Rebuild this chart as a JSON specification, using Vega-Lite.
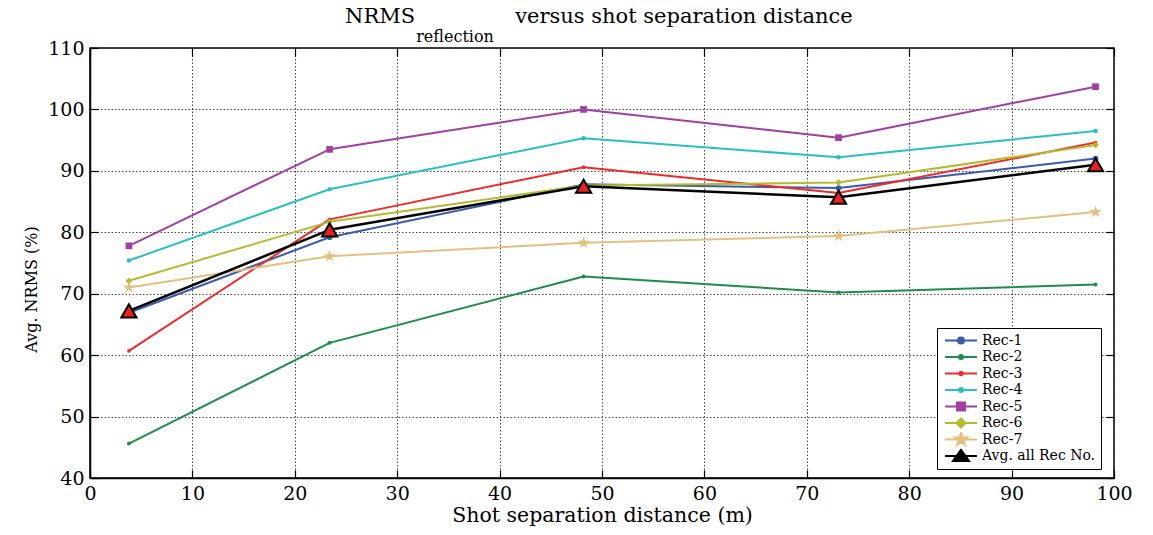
{
  "$schema": "https://vega.github.io/schema/vega-lite/v6.json",
  "width": 1024,
  "height": 430,
  "autosize": "none",
  "padding": {"left": 90, "top": 48, "right": 39, "bottom": 57},
  "background": "white",
  "config": {
    "font": "DejaVu Serif",
    "view": {"stroke": "black", "strokeWidth": 1.5},
    "legend": {"labelFont": "DejaVu Serif"},
    "axis": {
      "labelFont": "DejaVu Serif",
      "titleFont": "DejaVu Serif",
      "labelColor": "black",
      "titleColor": "black",
      "titleFontWeight": "normal",
      "domainColor": "black",
      "domainWidth": 1.5,
      "tickColor": "black",
      "tickWidth": 1.2,
      "tickSize": -8,
      "gridColor": "#333333",
      "gridDash": [1.5, 2],
      "gridWidth": 1,
      "gridOpacity": 0.9
    }
  },
  "title": {
    "text": "NRMS\u00a0\u00a0\u00a0\u00a0\u00a0\u00a0\u00a0\u00a0\u00a0\u00a0\u00a0\u00a0\u00a0\u00a0\u00a0versus shot separation distance",
    "subtitle": "\u200b\u00a0\u00a0\u00a0\u00a0\u00a0\u00a0\u00a0\u00a0\u00a0\u00a0\u00a0\u00a0\u00a0\u00a0reflection",
    "anchor": "start",
    "frame": "group",
    "dx": 255,
    "font": "DejaVu Serif",
    "fontSize": 21,
    "fontWeight": "normal",
    "color": "black",
    "subtitleFont": "DejaVu Serif",
    "subtitleFontSize": 16,
    "subtitleColor": "black",
    "subtitlePadding": 2,
    "offset": -6
  },
  "datasets": {
    "nrms": [
      {"x": 3.8, "series": "Rec-1", "y": 66.9},
      {"x": 23.4, "series": "Rec-1", "y": 79.2},
      {"x": 48.2, "series": "Rec-1", "y": 87.8},
      {"x": 73.1, "series": "Rec-1", "y": 87.2},
      {"x": 98.2, "series": "Rec-1", "y": 92.0},
      {"x": 3.8, "series": "Rec-2", "y": 45.6},
      {"x": 23.4, "series": "Rec-2", "y": 62.0},
      {"x": 48.2, "series": "Rec-2", "y": 72.8},
      {"x": 73.1, "series": "Rec-2", "y": 70.2},
      {"x": 98.2, "series": "Rec-2", "y": 71.5},
      {"x": 3.8, "series": "Rec-3", "y": 60.7},
      {"x": 23.4, "series": "Rec-3", "y": 82.1},
      {"x": 48.2, "series": "Rec-3", "y": 90.6},
      {"x": 73.1, "series": "Rec-3", "y": 86.4},
      {"x": 98.2, "series": "Rec-3", "y": 94.6},
      {"x": 3.8, "series": "Rec-4", "y": 75.4},
      {"x": 23.4, "series": "Rec-4", "y": 87.0},
      {"x": 48.2, "series": "Rec-4", "y": 95.3},
      {"x": 73.1, "series": "Rec-4", "y": 92.2},
      {"x": 98.2, "series": "Rec-4", "y": 96.5},
      {"x": 3.8, "series": "Rec-5", "y": 77.8},
      {"x": 23.4, "series": "Rec-5", "y": 93.5},
      {"x": 48.2, "series": "Rec-5", "y": 100.0},
      {"x": 73.1, "series": "Rec-5", "y": 95.4},
      {"x": 98.2, "series": "Rec-5", "y": 103.7},
      {"x": 3.8, "series": "Rec-6", "y": 72.1},
      {"x": 23.4, "series": "Rec-6", "y": 81.7},
      {"x": 48.2, "series": "Rec-6", "y": 87.6},
      {"x": 73.1, "series": "Rec-6", "y": 88.1},
      {"x": 98.2, "series": "Rec-6", "y": 94.2},
      {"x": 3.8, "series": "Rec-7", "y": 71.0},
      {"x": 23.4, "series": "Rec-7", "y": 76.1},
      {"x": 48.2, "series": "Rec-7", "y": 78.3},
      {"x": 73.1, "series": "Rec-7", "y": 79.4},
      {"x": 98.2, "series": "Rec-7", "y": 83.3},
      {"x": 3.8, "series": "Avg. all Rec No.", "y": 67.2},
      {"x": 23.4, "series": "Avg. all Rec No.", "y": 80.4},
      {"x": 48.2, "series": "Avg. all Rec No.", "y": 87.5},
      {"x": 73.1, "series": "Avg. all Rec No.", "y": 85.7},
      {"x": 98.2, "series": "Avg. all Rec No.", "y": 91.0}
    ]
  },
  "data": {"name": "nrms"},
  "layer": [
    {
      "mark": {"type": "line", "strokeJoin": "round"},
      "encoding": {
        "x": {
          "field": "x", "type": "quantitative",
          "scale": {"domain": [0, 100], "nice": false, "zero": false},
          "axis": {
            "orient": "bottom", "values": [0, 10, 20, 30, 40, 50, 60, 70, 80, 90, 100],
            "title": "Shot separation distance (m)", "titleFontSize": 20.5, "titlePadding": 2,
            "labelFontSize": 19, "labelPadding": 14, "grid": true, "labelFlush": false
          }
        },
        "y": {
          "field": "y", "type": "quantitative",
          "scale": {"domain": [40, 110], "nice": false, "zero": false},
          "axis": {
            "orient": "left", "values": [40, 50, 60, 70, 80, 90, 100, 110],
            "title": "Avg. NRMS (%)", "titleFontSize": 16, "titlePadding": 8, "titleY": 241,
            "labelFontSize": 19, "labelPadding": 14, "grid": true, "labelFlush": false
          }
        },
        "color": {
          "field": "series", "type": "nominal",
          "scale": {
            "domain": ["Rec-1", "Rec-2", "Rec-3", "Rec-4", "Rec-5", "Rec-6", "Rec-7", "Avg. all Rec No."],
            "range": ["#3B5BA8", "#1E8C4A", "#EE2A2A", "#2BBFC4", "#A040A0", "#B5BB30", "#E3C080", "#000000"]
          },
          "legend": {
            "title": null,
            "orient": "none",
            "legendX": 847,
            "legendY": 280,
            "strokeColor": "black",
            "fillColor": "white",
            "padding": 5,
            "symbolSize": 100,
            "symbolOffset": 12,
            "labelOffset": 14,
            "rowPadding": 1.5,
            "clipHeight": 15,
            "labelFont": "DejaVu Serif",
            "labelFontSize": 14,
            "labelColor": "black",
            "encode": {
              "symbols": {
                "update": {
                  "shape": {"signal": "datum.value === 'Rec-1' ? 'M-3.2,0L3.2,0M0.6,0A0.6,0.6,0,1,1,-0.6,0A0.6,0.6,0,1,1,0.6,0Z' : datum.value === 'Rec-2' ? 'M-3.2,0L3.2,0M0.4,0A0.4,0.4,0,1,1,-0.4,0A0.4,0.4,0,1,1,0.4,0Z' : datum.value === 'Rec-3' ? 'M-3.2,0L3.2,0M0.35,0A0.35,0.35,0,1,1,-0.35,0A0.35,0.35,0,1,1,0.35,0Z' : datum.value === 'Rec-4' ? 'M-3.2,0L3.2,0M0.4,0A0.4,0.4,0,1,1,-0.4,0A0.4,0.4,0,1,1,0.4,0Z' : datum.value === 'Rec-5' ? 'M-3.2,0L3.2,0M-0.8,-0.8L0.8,-0.8L0.8,0.8L-0.8,0.8Z' : datum.value === 'Rec-6' ? 'M-3.2,0L3.2,0M0,-0.9L0.9,0L0,0.9L-0.9,0Z' : datum.value === 'Rec-7' ? 'M-3.2,0L3.2,0M0,-1.3L0.29,-0.4L1.24,-0.4L0.47,0.15L0.76,1.05L0,0.5L-0.76,1.05L-0.47,0.15L-1.24,-0.4L-0.29,-0.4Z' : 'M-3.2,0L3.2,0M0,-1.25L1.6,1.0L-1.6,1.0Z'"},
                  "fill": {"signal": "datum.value === 'Avg. all Rec No.' ? '#E8201F' : scale('color', datum.value)"},
                  "stroke": {"signal": "scale('color', datum.value)"},
                  "strokeWidth": {"value": 2},
                  "opacity": {"value": 1}
                }
              }
            }
          }
        },
        "strokeWidth": {
          "condition": {"test": "datum.series === 'Avg. all Rec No.'", "value": 2.5},
          "value": 2
        }
      }
    },
    {
      "transform": [{"filter": "datum.series !== 'Avg. all Rec No.'"}],
      "mark": {"type": "point", "filled": true, "opacity": 1},
      "encoding": {
        "x": {"field": "x", "type": "quantitative", "axis": null},
        "y": {"field": "y", "type": "quantitative", "axis": null},
        "color": {"field": "series", "type": "nominal", "legend": null},
        "shape": {
          "field": "series", "type": "nominal", "legend": null,
          "scale": {
            "type": "ordinal",
            "domain": ["Rec-1", "Rec-2", "Rec-3", "Rec-4", "Rec-5", "Rec-6", "Rec-7"],
            "range": ["circle", "circle", "circle", "circle", "square", "diamond", "M0,-1L0.2245,-0.309L0.951,-0.309L0.363,0.118L0.588,0.809L0,0.382L-0.588,0.809L-0.363,0.118L-0.951,-0.309L-0.2245,-0.309Z"]
          }
        },
        "size": {
          "field": "series", "type": "nominal", "legend": null,
          "scale": {
            "type": "ordinal",
            "domain": ["Rec-1", "Rec-2", "Rec-3", "Rec-4", "Rec-5", "Rec-6", "Rec-7"],
            "range": [32, 16, 14, 20, 45, 45, 170]
          }
        }
      }
    },
    {
      "transform": [{"filter": "datum.series === 'Avg. all Rec No.'"}],
      "mark": {"type": "point", "shape": "triangle-up", "filled": true, "fill": "#E8201F", "stroke": "black", "strokeWidth": 2, "size": 230, "opacity": 1},
      "encoding": {
        "x": {"field": "x", "type": "quantitative", "axis": null},
        "y": {"field": "y", "type": "quantitative", "axis": null}
      }
    },
    {
      "mark": {"type": "point", "opacity": 0},
      "encoding": {
        "x": {
          "field": "x", "type": "quantitative",
          "axis": {"orient": "top", "values": [0, 10, 20, 30, 40, 50, 60, 70, 80, 90, 100], "labels": false, "title": null, "grid": false, "domain": false}
        },
        "y": {
          "field": "y", "type": "quantitative",
          "axis": {"orient": "right", "values": [40, 50, 60, 70, 80, 90, 100, 110], "labels": false, "title": null, "grid": false, "domain": false}
        }
      }
    }
  ],
  "resolve": {"axis": {"x": "independent", "y": "independent"}}
}
